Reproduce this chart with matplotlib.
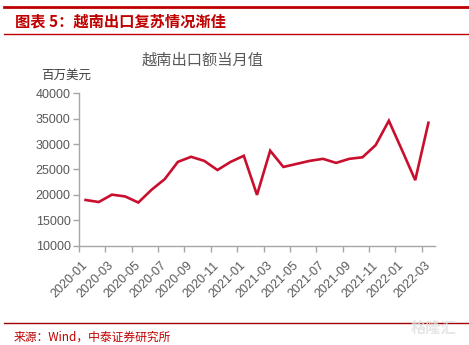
import numpy as np
import matplotlib.pyplot as plt
from matplotlib.lines import Line2D
from matplotlib.ticker import FixedLocator

# Vietnam monthly exports, million USD
months = ['2020-01', '2020-02', '2020-03', '2020-04', '2020-05', '2020-06',
          '2020-07', '2020-08', '2020-09', '2020-10', '2020-11', '2020-12',
          '2021-01', '2021-02', '2021-03', '2021-04', '2021-05', '2021-06',
          '2021-07', '2021-08', '2021-09', '2021-10', '2021-11', '2021-12',
          '2022-01', '2022-02', '2022-03']
exports = [19000, 18600, 20050, 19700, 18500, 21000, 23100, 26500, 27500,
           26700, 24900, 26500, 27700, 20000, 28700, 25500, 26100, 26700,
           27100, 26300, 27100, 27400, 29800, 34600, 28800, 22900, 34200]
yticks = [10000, 15000, 20000, 25000, 30000, 35000, 40000]

fig_title = '图表 5：越南出口复苏情况渐佳'
chart_title = '越南出口额当月值'
unit_label = '百万美元'
source_text = '来源：Wind，中泰证券研究所'

cjk = ['Noto Sans CJK SC', 'DejaVu Sans']
red = '#C00000'
grey_txt = '#595959'
axis_col = '#A6A6A6'

fig = plt.figure(figsize=(4.69, 3.45), dpi=100)
ax = fig.add_axes([0.1684, 0.2878, 0.7591, 0.4418])

x = np.arange(len(months))
ax.plot(x, exports, color='#C8102E', lw=1.9, solid_joinstyle='miter')

ax.set_xlim(-0.5, len(months) - 0.5)
ax.set_ylim(yticks[0], yticks[-1])
ax.set_yticks(yticks)
ax.set_yticklabels([str(v) for v in yticks], family='Liberation Sans',
                   fontsize=9, color=grey_txt)

# ticks at category boundaries, labels every other category
ax.xaxis.set_major_locator(FixedLocator(np.arange(-0.5, len(months), 2)))
ax.xaxis.set_major_formatter(plt.NullFormatter())
ax.set_xticks(x[::2], minor=True)
ax.set_xticklabels(months[::2], minor=True, rotation=45, ha='right', va='center',
                   rotation_mode='anchor', family='Liberation Sans',
                   fontsize=9, color=grey_txt)
ax.tick_params(axis='x', which='minor', length=0, pad=13)
ax.tick_params(axis='x', which='major', length=4, width=1, color=axis_col)
ax.tick_params(axis='y', length=4, width=1, color=axis_col, pad=2)

for s in ['top', 'right']:
    ax.spines[s].set_visible(False)
for s in ['left', 'bottom']:
    ax.spines[s].set_color(axis_col)
    ax.spines[s].set_linewidth(1)

fig.text(0.431, 0.826, chart_title, family=cjk, fontsize=11,
         color=grey_txt, ha='center', va='center')
fig.text(0.142, 0.783, unit_label, family=cjk, fontsize=9,
         color='#404040', ha='center', va='center')

# report header / footer decoration
fig.add_artist(Line2D([0.009, 1.0], [0.979, 0.979], color=red, lw=2))
fig.add_artist(Line2D([0.009, 1.0], [0.901, 0.901], color=red, lw=1))
fig.text(0.032, 0.938, fig_title, family=cjk, fontsize=11, fontweight='bold',
         style='italic', color=red, ha='left', va='center')

fig.add_artist(Line2D([0.009, 1.0], [0.065, 0.065], color='#A00000', lw=1))
fig.text(0.028, 0.024, source_text, family=cjk, fontsize=8.5,
         color=red, ha='left', va='center')
fig.text(0.925, 0.05, '格隆汇', family=cjk, fontsize=11, fontweight='bold',
         color='#E0E0E0', ha='center', va='center', alpha=0.8)

fig.savefig('out.png', dpi=100)
